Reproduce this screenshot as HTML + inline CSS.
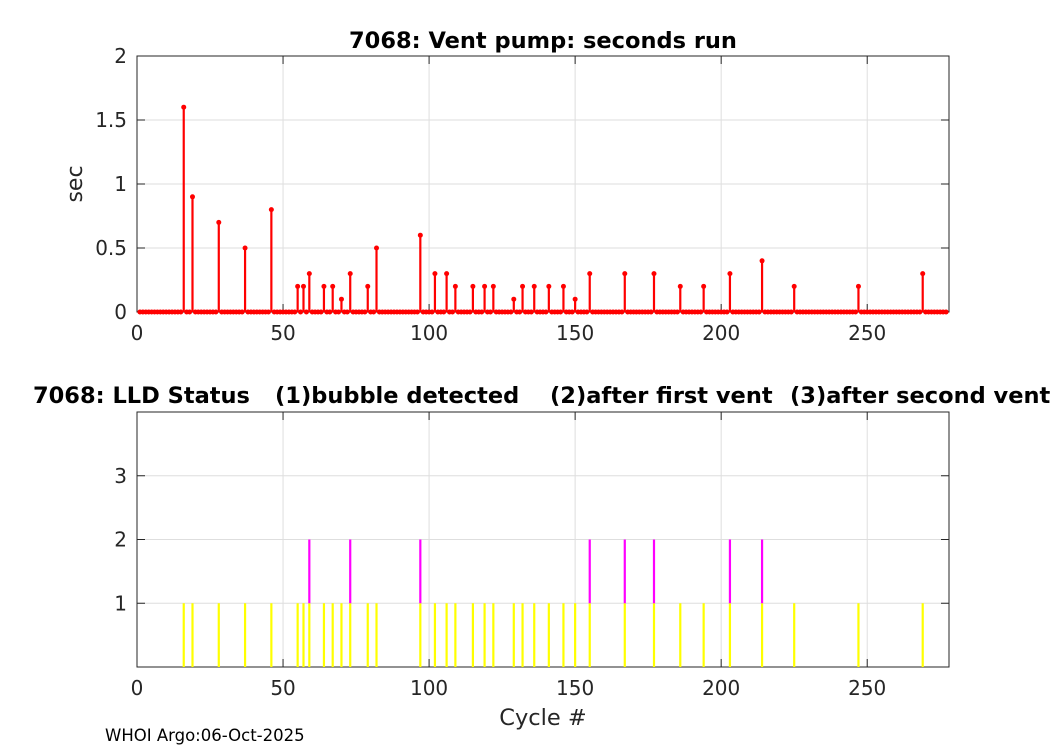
<!DOCTYPE html>
<html><head><meta charset="utf-8"><style>
body{margin:0;background:#fff;}
svg text{font-family:"DejaVu Sans","Liberation Sans",sans-serif;white-space:pre;}
</style></head><body>
<svg id="c" width="1050" height="750" xmlns="http://www.w3.org/2000/svg">
<rect width="1050" height="750" fill="#fff"/>
</svg>
<script>
const ventCycles=[16,19,28,37,46,55,57,59,64,67,70,73,79,82,97,102,106,109,115,119,122,129,132,136,141,146,150,155,167,177,186,194,203,214,225,247,269];
const ventSecs=[1.6,0.9,0.7,0.5,0.8,0.2,0.2,0.3,0.2,0.2,0.1,0.3,0.2,0.5,0.6,0.3,0.3,0.2,0.2,0.2,0.2,0.1,0.2,0.2,0.2,0.2,0.1,0.3,0.3,0.3,0.2,0.2,0.3,0.4,0.2,0.2,0.3];
const lldCycles=[16,19,28,37,46,55,57,59,64,67,70,73,79,82,97,102,106,109,115,119,122,129,132,136,141,146,150,155,167,177,186,194,203,214,225,247,269];
const lldStatus=[1,1,1,1,1,1,1,2,1,1,1,2,1,1,2,1,1,1,1,1,1,1,1,1,1,1,1,2,2,2,1,1,2,2,1,1,1];
const xTicks=[0,50,100,150,200,250];
const topYTicks=[0,0.5,1,1.5,2];
const topYLabels=["0","0.5","1","1.5","2"];
const botYTicks=[1,2,3];
const maxCycle=277;

const svg=document.getElementById('c');
const NS='http://www.w3.org/2000/svg';
function el(t,a,p){const e=document.createElementNS(NS,t);for(const k in a)e.setAttribute(k,a[k]);(p||svg).appendChild(e);return e;}
const L=137,R=949;
const X=v=>L+(v/278)*(R-L);
const T0=312,T1=56,Yt=v=>T0-(v/2)*(T0-T1);
const B0=667,B1=412,Yb=v=>B0-(v/4)*(B0-B1);

function axes(top,bot,yt,yfn,ylabels,name){
  const g=el('g',{});
  
  
  for(const t of xTicks){if(t>0)el('line',{x1:X(t),x2:X(t),y1:top,y2:bot,stroke:'#dedede','stroke-width':1},g);}
  yt.forEach(v=>{const y=yfn(v);if(y>top+1&&y<bot-1)el('line',{x1:L,x2:R,y1:y,y2:y,stroke:'#dedede','stroke-width':1},g);});
  el('rect',{x:L,y:top,width:R-L,height:bot-top,fill:'none',stroke:'#262626','stroke-width':1},g);
  for(const t of xTicks){el('line',{x1:X(t),x2:X(t),y1:bot,y2:bot-8,stroke:'#262626'},g);el('line',{x1:X(t),x2:X(t),y1:top,y2:top+8,stroke:'#262626'},g);
    const tx=el('text',{x:X(t),y:bot+28,'font-size':20,'text-anchor':'middle',fill:'#262626'},g);tx.textContent=t;}
  yt.forEach((v,i)=>{const y=yfn(v);el('line',{x1:L,x2:L+8,y1:y,y2:y,stroke:'#262626'},g);el('line',{x1:R,x2:R-8,y1:y,y2:y,stroke:'#262626'},g);
    const tx=el('text',{x:L-10,y:y+7,'font-size':20,'text-anchor':'end',fill:'#262626'},g);tx.textContent=ylabels[i];});
  return g;
}
axes(T1,T0,topYTicks,Yt,topYLabels,'top-axes');
axes(B1,B0,botYTicks,Yb,botYTicks.map(String),'bottom-axes');

const sg=el('g',{});


for(let c=1;c<=maxCycle;c++){
  const i=ventCycles.indexOf(c);const v=i>=0?ventSecs[i]:0;
  if(v>0){const s=el('line',{x1:X(c),x2:X(c),y1:Yt(0),y2:Yt(v),stroke:'#ff0000','stroke-width':2.2},sg);
    }
  const m=el('circle',{cx:X(c),cy:Yt(v),r:2.5,fill:'#ff0000'},sg);
  
  
}
const bg=el('g',{});


lldCycles.forEach((c,i)=>{
  const b=el('line',{x1:X(c),x2:X(c),y1:Yb(0),y2:Yb(1),stroke:'#ffff00','stroke-width':2.2},bg);
  
  
  if(lldStatus[i]>=2){const m=el('line',{x1:X(c),x2:X(c),y1:Yb(1),y2:Yb(lldStatus[i]),stroke:'#ff00ff','stroke-width':2.2},bg);
    
    }
});
function txt(x,y,s,attrs,name){const t=el('text',Object.assign({x:x,y:y},attrs));t.textContent=s;
  return t;}
txt(543,48,'7068: Vent pump: seconds run',{'font-size':22.5,'font-weight':'bold','text-anchor':'middle',fill:'#000'},'top-title');
txt(82,184,'sec',{'font-size':22,'text-anchor':'middle',fill:'#262626',transform:'rotate(-90 82 184)'},'y-axis-title');
const bt={'font-size':22.5,'font-weight':'bold',fill:'#000'};
txt(33,403,'7068: LLD Status',bt,'bottom-title');
txt(275,403,'(1)bubble detected',bt,'legend-note-1');
txt(550,403,'(2)after first vent',bt,'legend-note-2');
txt(790,403,'(3)after second vent',bt,'legend-note-3');
txt(543,725,'Cycle #',{'font-size':22.5,'text-anchor':'middle',fill:'#262626'},'x-axis-title');
txt(105,741,'WHOI Argo:06-Oct-2025',{'font-size':16.5,fill:'#000'},'footer-note');
</script>
</body></html>
